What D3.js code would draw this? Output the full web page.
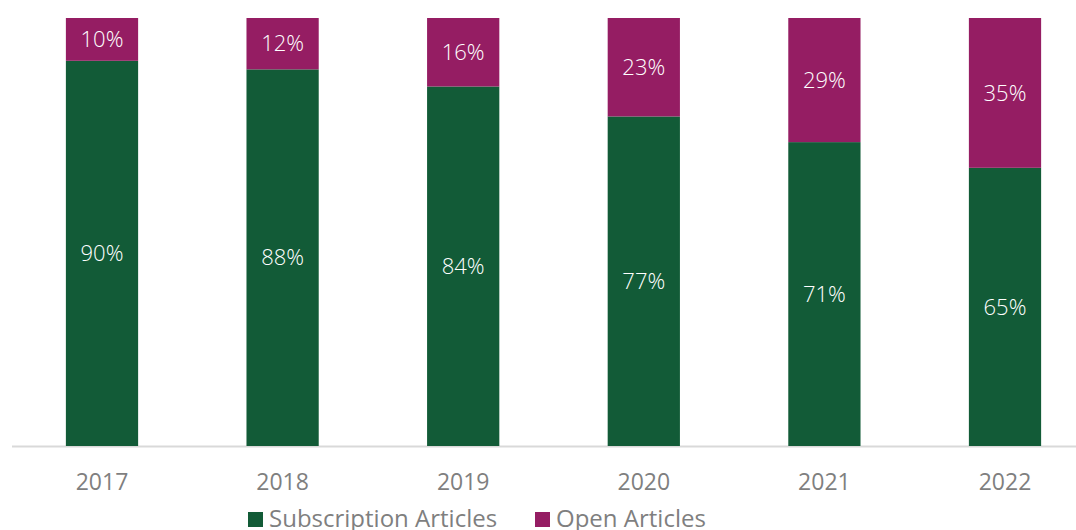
<!DOCTYPE html>
<meta charset="utf-8">
<script src="https://d3js.org/d3.v7.min.js"></script>
<style>
body { margin: 0; background: #fff; }
svg text { font-family: "Open Sans", sans-serif; }
</style>
<body>
<script>

// data
var years = ["2017", "2018", "2019", "2020", "2021", "2022"];
var subscription = [90, 88, 84, 77, 71, 65];
var open = [10, 12, 16, 23, 29, 35];
var seriesNames = ["Subscription Articles", "Open Articles"];
var seriesColors = ["#125b37", "#951d63"];

var width = 1076, height = 530;
var plotTop = 18, base = 446;

var svg = d3.select("body").append("svg")
    .attr("width", width)
    .attr("height", height);

var x = d3.scaleBand()
    .domain(years)
    .range([11.7, 1095.3])
    .paddingInner(0.6)
    .paddingOuter(0.3);

var y = d3.scaleLinear()
    .domain([0, 100])
    .range([base, plotTop]);

var rows = years.map(function(yr, i) {
    return { year: yr, sub: subscription[i], open: open[i] };
});
var stack = d3.stack().keys(["sub", "open"]);
var layers = stack(rows);

// axis line
svg.append("line")
    .attr("x1", 12).attr("x2", width)
    .attr("y1", base + 0.5).attr("y2", base + 0.5)
    .attr("stroke", "#d9d9d9")
    .attr("stroke-width", 2);

var g = svg.selectAll(".layer")
    .data(layers)
    .enter().append("g")
    .attr("class", "layer")
    .attr("fill", function(d, i) { return seriesColors[i]; });

g.selectAll("rect")
    .data(function(d) { return d; })
    .enter().append("rect")
    .attr("x", function(d) { return x(d.data.year); })
    .attr("width", x.bandwidth())
    .attr("y", function(d) { return y(d[1]); })
    .attr("height", function(d) { return y(d[0]) - y(d[1]); });

g.selectAll("text")
    .data(function(d) { return d.map(function(p) { p.key = d.key; return p; }); })
    .enter().append("text")
    .attr("x", function(d) { return x(d.data.year) + x.bandwidth() / 2; })
    .attr("y", function(d) { return (y(d[0]) + y(d[1])) / 2; })
    .attr("dy", "0.35em")
    .attr("text-anchor", "middle")
    .attr("fill", "#fff")
    .attr("font-size", "22px")
    .attr("font-weight", 300)
    .text(function(d) { return d.data[d.key] + "%"; });

// x tick labels
svg.selectAll(".tick-label")
    .data(years)
    .enter().append("text")
    .attr("class", "tick-label")
    .attr("x", function(d) { return x(d) + x.bandwidth() / 2; })
    .attr("y", 482)
    .attr("dy", "0.35em")
    .attr("text-anchor", "middle")
    .attr("fill", "#7f7f7f")
    .attr("font-size", "23px")
    .text(function(d) { return d; });

// legend
var legendX = [248, 535];
var leg = svg.selectAll(".legend")
    .data(seriesNames)
    .enter().append("g")
    .attr("class", "legend")
    .attr("transform", function(d, i) { return "translate(" + legendX[i] + ",512)"; });

leg.append("rect")
    .attr("width", 15).attr("height", 15)
    .attr("fill", function(d, i) { return seriesColors[i]; });

leg.append("text")
    .attr("x", 21)
    .attr("y", 7)
    .attr("dy", "0.35em")
    .attr("fill", "#7f7f7f")
    .attr("font-size", "24px")
    .text(function(d) { return d; });

</script>
</body>
</html>
